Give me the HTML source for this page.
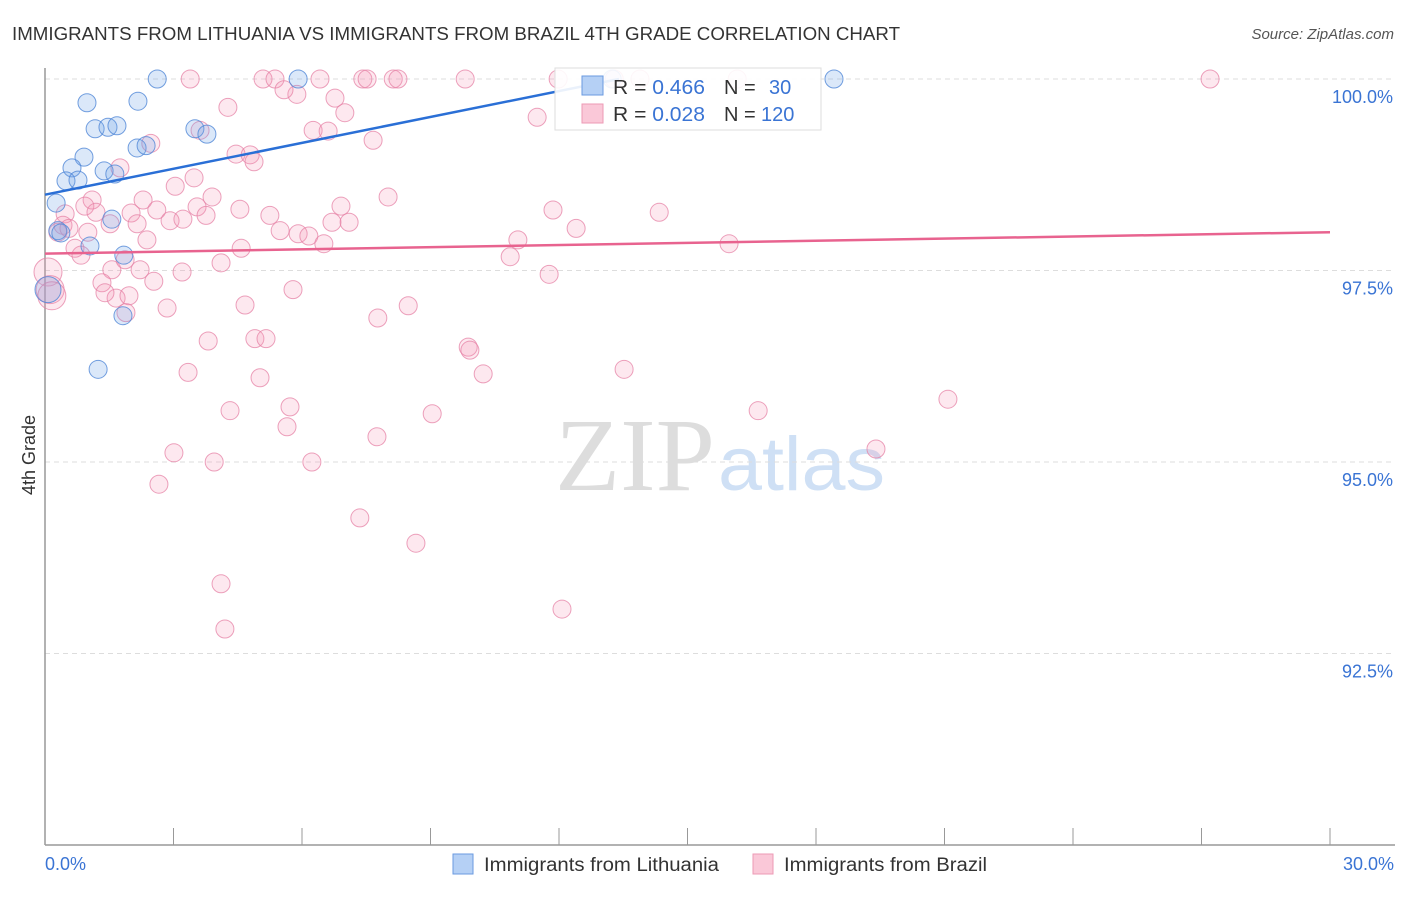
<!DOCTYPE html>
<html><head><meta charset="utf-8"><style>
body{margin:0;background:#fff;font-family:"Liberation Sans",sans-serif}
</style></head><body>
<svg id="chart" width="1406" height="892" xmlns="http://www.w3.org/2000/svg">
<text x="12" y="40" font-size="18" fill="#333" textLength="888" lengthAdjust="spacingAndGlyphs">IMMIGRANTS FROM LITHUANIA VS IMMIGRANTS FROM BRAZIL 4TH GRADE CORRELATION CHART</text>
<text x="1394" y="39" font-size="15" fill="#555" font-style="italic" text-anchor="end">Source: ZipAtlas.com</text>
<text x="555" y="490" font-size="104" fill="#ddd" font-family="Liberation Serif,serif" textLength="160" lengthAdjust="spacingAndGlyphs">ZIP</text>
<text x="718" y="490" font-size="76" fill="#cfe0f5" textLength="167" lengthAdjust="spacingAndGlyphs">atlas</text>
<g id="grid"></g><g id="axes"></g><g id="marks"></g><g id="lines"></g>
<text x="35" y="455" font-size="18" fill="#333" text-anchor="middle" transform="rotate(-90 35 455)">4th Grade</text>
<text x="45" y="870" font-size="18" fill="#3a74d4">0.0%</text>
<text x="1394" y="870" font-size="18" fill="#3a74d4" text-anchor="end">30.0%</text>
<g>
<rect x="555" y="68" width="266" height="62" fill="#fff" fill-opacity="0.9" stroke="#ddd"/>
<rect x="582" y="76" width="21" height="19" fill="#b5d0f5" stroke="#6a9ae0"/>
<rect x="582" y="104" width="21" height="19" fill="#fac8d8" stroke="#ec9ab5"/>
<text x="613" y="94" font-size="20" fill="#333" textLength="92" lengthAdjust="spacingAndGlyphs">R = <tspan fill="#3a74d4">0.466</tspan></text>
<text x="724" y="94" font-size="20" fill="#333">N = </text>
<text x="769" y="94" font-size="20" fill="#3a74d4">30</text>
<text x="613" y="121" font-size="20" fill="#333" textLength="92" lengthAdjust="spacingAndGlyphs">R = <tspan fill="#3a74d4">0.028</tspan></text>
<text x="724" y="121" font-size="20" fill="#333">N = </text>
<text x="761" y="121" font-size="20" fill="#3a74d4">120</text>
</g>
<g>
<rect x="453" y="854" width="20" height="20" fill="#b5d0f5" stroke="#6a9ae0"/>
<text x="484" y="871" font-size="19" fill="#333" textLength="235" lengthAdjust="spacingAndGlyphs">Immigrants from Lithuania</text>
<rect x="753" y="854" width="20" height="20" fill="#fac8d8" stroke="#ec9ab5"/>
<text x="784" y="871" font-size="19" fill="#333" textLength="203" lengthAdjust="spacingAndGlyphs">Immigrants from Brazil</text>
</g>
</svg>
<script>
const yTicks=[100,97.5,95,92.5];
const yTickLabels=["100.0%","97.5%","95.0%","92.5%"];
const xTicks=[0,3,6,9,12,15,18,21,24,27,30];
const blueX=[2.62,5.91,18.42,0.98,2.17,1.17,1.47,1.68,3.50,3.78,2.15,2.36,0.91,0.63,0.49,0.77,1.38,1.63,0.26,1.56,0.30,1.05,1.84,0.07,1.82,1.24,0.37,13.24];
const blueY=[100,100,100,99.69,99.71,99.35,99.37,99.39,99.35,99.28,99.10,99.13,98.98,98.84,98.67,98.68,98.80,98.76,98.38,98.17,98.02,97.82,97.70,97.25,96.91,96.21,97.99,100];
const pinkX=[3.39,5.09,5.37,6.42,7.42,7.52,8.13,8.24,9.81,11.98,13.29,13.89,16.16,27.20,5.88,5.58,6.77,7.00,4.27,3.62,6.26,6.61,7.66,2.47,4.46,4.79,4.88,1.75,3.48,3.04,2.29,3.90,3.55,1.10,0.93,0.47,1.19,2.01,2.61,4.55,5.25,6.91,8.01,11.86,14.34,0.42,0.56,1.52,2.15,2.92,3.22,3.76,5.49,5.91,6.16,6.70,7.10,1.00,0.30,0.70,0.84,2.38,4.58,6.51,11.04,10.86,15.97,12.40,1.56,2.22,1.87,4.11,3.20,2.54,1.33,0.07,0.12,0.16,1.66,1.96,1.40,2.85,4.67,5.79,8.48,7.77,1.89,3.81,4.90,5.16,9.88,9.92,11.77,3.34,5.02,10.23,13.52,4.32,5.72,5.65,9.04,7.75,16.65,21.08,3.01,3.95,6.23,19.40,2.66,7.35,8.66,4.11,4.20,12.07,11.49];
const pinkY=[100,100,100,100,100,100,100,100,100,100,100,100,100,100,99.80,99.86,99.75,99.56,99.63,99.33,99.33,99.32,99.20,99.16,99.02,99.01,98.92,98.84,98.71,98.60,98.42,98.46,98.33,98.42,98.34,98.24,98.26,98.25,98.29,98.30,98.22,98.34,98.46,98.29,98.26,98.09,98.05,98.11,98.11,98.15,98.17,98.22,98.02,97.98,97.95,98.13,98.13,98.00,98.00,97.79,97.70,97.90,97.79,97.85,97.90,97.68,97.85,98.05,97.51,97.51,97.64,97.60,97.48,97.36,97.34,97.48,97.25,97.17,97.14,97.17,97.21,97.01,97.05,97.25,97.04,96.88,96.95,96.58,96.61,96.61,96.50,96.46,97.45,96.17,96.10,96.15,96.21,95.67,95.72,95.46,95.63,95.33,95.67,95.82,95.12,95.00,95.00,95.17,94.71,94.27,93.94,93.41,92.82,93.08,99.50];
const blueLine=[0,98.49,13.4,100];
const pinkLine=[0,97.72,30,98.00];
const NS="http://www.w3.org/2000/svg";
const sx=v=>45+v/30*1285, sy=v=>79+(100-v)/2.5*191.5;
function mk(tag,attrs,parent){const e=document.createElementNS(NS,tag);for(const k in attrs)e.setAttribute(k,attrs[k]);document.getElementById(parent).appendChild(e);return e;}
yTicks.forEach((t,i)=>{
 const l=mk('line',{x1:45,x2:1395,y1:sy(t),y2:sy(t),stroke:'#ddd','stroke-dasharray':'5,4'},'grid');
 
 
 const tx=mk('text',{x:1393,y:sy(t)+24,'font-size':18,fill:'#3a74d4','text-anchor':'end'},'grid');
 tx.textContent=yTickLabels[i];
 
 
});
const ya=mk('line',{x1:45,x2:45,y1:68,y2:845,stroke:'#999','stroke-width':1.5},'axes');


const xa=mk('line',{x1:45,x2:1395,y1:845,y2:845,stroke:'#999','stroke-width':1.5},'axes');


xTicks.forEach(t=>{
 const l=mk('line',{x1:sx(t),x2:sx(t),y1:828,y2:845,stroke:'#999'},'axes');
 
 
});
pinkX.forEach((x,i)=>{
 const big=x<0.2;
 const c=mk('circle',{cx:sx(x),cy:sy(pinkY[i]),r:big?14:9,fill:'rgba(244,150,182,0.22)',stroke:'rgba(230,130,165,0.75)','stroke-width':1},'marks');
 
 
});
blueX.forEach((x,i)=>{
 const big=x<0.1;
 const c=mk('circle',{cx:sx(x),cy:sy(blueY[i]),r:big?13:9,fill:'rgba(110,165,232,0.25)',stroke:'rgba(80,135,215,0.8)','stroke-width':1},'marks');
 
 
});
const bl=mk('line',{x1:sx(blueLine[0]),y1:sy(blueLine[1]),x2:sx(blueLine[2]),y2:sy(blueLine[3]),stroke:'#2a6fd6','stroke-width':2.5},'lines');


const pl=mk('line',{x1:sx(pinkLine[0]),y1:sy(pinkLine[1]),x2:sx(pinkLine[2]),y2:sy(pinkLine[3]),stroke:'#e8638f','stroke-width':2.5},'lines');


</script>
</body></html>
